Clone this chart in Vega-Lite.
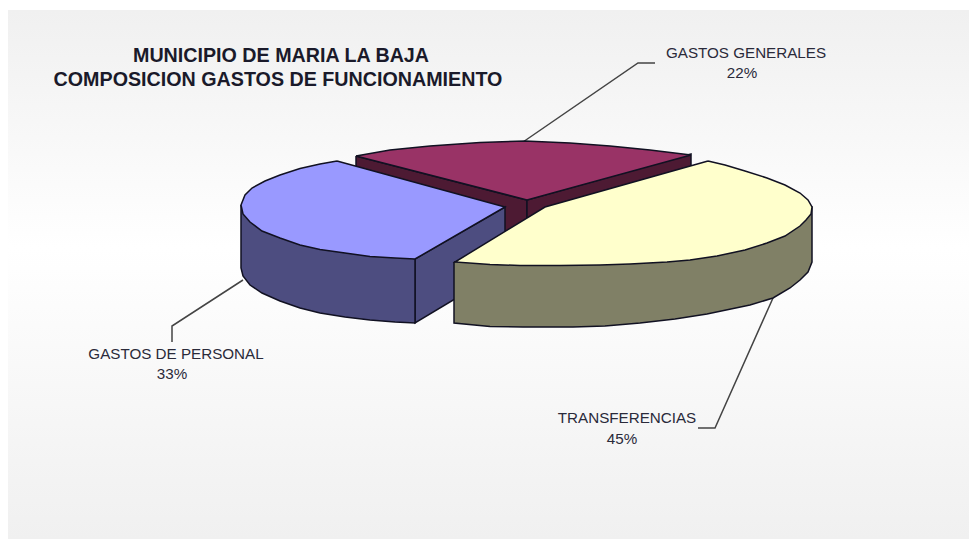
{"$schema":"https://vega.github.io/schema/vega-lite/v6.json","width":969,"height":539,"autosize":{"type":"fit","contains":"padding"},"padding":0,"background":"white","view":{"stroke":null},
"datasets":{
"panel":[{"x":8,"x2":969,"y":10,"y2":539}],
"leaders":[
{"slice":"GASTOS GENERALES","seq":1,"x":523,"y":142},{"slice":"GASTOS GENERALES","seq":2,"x":638,"y":63},{"slice":"GASTOS GENERALES","seq":3,"x":655,"y":63},
{"slice":"GASTOS DE PERSONAL","seq":1,"x":243,"y":280},{"slice":"GASTOS DE PERSONAL","seq":2,"x":172,"y":326},{"slice":"GASTOS DE PERSONAL","seq":3,"x":172,"y":342},
{"slice":"TRANSFERENCIAS","seq":1,"x":773,"y":298},{"slice":"TRANSFERENCIAS","seq":2,"x":715,"y":428},{"slice":"TRANSFERENCIAS","seq":3,"x":698,"y":428}],
"pieces":[
{"piece":"gg_side_l","seq":1,"x":356,"y":156},{"piece":"gg_side_l","seq":2,"x":527,"y":200},{"piece":"gg_side_l","seq":3,"x":527,"y":260},{"piece":"gg_side_l","seq":4,"x":356,"y":200},{"piece":"gg_side_l","seq":5,"x":356,"y":156},
{"piece":"gg_side_r","seq":1,"x":527,"y":200},{"piece":"gg_side_r","seq":2,"x":691,"y":154},{"piece":"gg_side_r","seq":3,"x":691,"y":170},{"piece":"gg_side_r","seq":4,"x":527,"y":225},{"piece":"gg_side_r","seq":5,"x":527,"y":200},
{"piece":"gg_top","seq":1,"x":356,"y":156},{"piece":"gg_top","seq":2,"x":390,"y":150},{"piece":"gg_top","seq":3,"x":430,"y":146},{"piece":"gg_top","seq":4,"x":480,"y":142.5},{"piece":"gg_top","seq":5,"x":525,"y":141},{"piece":"gg_top","seq":6,"x":570,"y":143},{"piece":"gg_top","seq":7,"x":610,"y":146},{"piece":"gg_top","seq":8,"x":650,"y":150},{"piece":"gg_top","seq":9,"x":691,"y":155},{"piece":"gg_top","seq":10,"x":527,"y":200},{"piece":"gg_top","seq":11,"x":356,"y":156},
{"piece":"gp_inner","seq":1,"x":415,"y":259},{"piece":"gp_inner","seq":2,"x":505,"y":207},{"piece":"gp_inner","seq":3,"x":505,"y":269},{"piece":"gp_inner","seq":4,"x":415,"y":323},{"piece":"gp_inner","seq":5,"x":415,"y":259},
{"piece":"gp_side","seq":1,"x":241,"y":205},{"piece":"gp_side","seq":2,"x":241,"y":268},{"piece":"gp_side","seq":3,"x":243,"y":276},{"piece":"gp_side","seq":4,"x":250,"y":285},{"piece":"gp_side","seq":5,"x":262,"y":293},{"piece":"gp_side","seq":6,"x":280,"y":301},{"piece":"gp_side","seq":7,"x":300,"y":308},{"piece":"gp_side","seq":8,"x":320,"y":313},{"piece":"gp_side","seq":9,"x":345,"y":317},{"piece":"gp_side","seq":10,"x":370,"y":320},{"piece":"gp_side","seq":11,"x":395,"y":322},{"piece":"gp_side","seq":12,"x":415,"y":323},{"piece":"gp_side","seq":13,"x":415,"y":259},{"piece":"gp_side","seq":14,"x":241,"y":205},
{"piece":"gp_top","seq":1,"x":337,"y":161},{"piece":"gp_top","seq":2,"x":320,"y":164},{"piece":"gp_top","seq":3,"x":300,"y":168.5},{"piece":"gp_top","seq":4,"x":280,"y":175},{"piece":"gp_top","seq":5,"x":265,"y":181},{"piece":"gp_top","seq":6,"x":252,"y":188},{"piece":"gp_top","seq":7,"x":245,"y":195},{"piece":"gp_top","seq":8,"x":241,"y":205},{"piece":"gp_top","seq":9,"x":243,"y":214},{"piece":"gp_top","seq":10,"x":250,"y":222},{"piece":"gp_top","seq":11,"x":262,"y":231},{"piece":"gp_top","seq":12,"x":280,"y":238},{"piece":"gp_top","seq":13,"x":300,"y":245},{"piece":"gp_top","seq":14,"x":320,"y":249.5},{"piece":"gp_top","seq":15,"x":345,"y":253},{"piece":"gp_top","seq":16,"x":370,"y":256.5},{"piece":"gp_top","seq":17,"x":395,"y":258},{"piece":"gp_top","seq":18,"x":415,"y":259},{"piece":"gp_top","seq":19,"x":505,"y":207},{"piece":"gp_top","seq":20,"x":337,"y":161},
{"piece":"tr_side","seq":1,"x":454,"y":262},{"piece":"tr_side","seq":2,"x":454,"y":323},{"piece":"tr_side","seq":3,"x":490,"y":326.5},{"piece":"tr_side","seq":4,"x":523,"y":327},{"piece":"tr_side","seq":5,"x":573,"y":327},{"piece":"tr_side","seq":6,"x":605,"y":326},{"piece":"tr_side","seq":7,"x":640,"y":323},{"piece":"tr_side","seq":8,"x":675,"y":319},{"piece":"tr_side","seq":9,"x":707,"y":314},{"piece":"tr_side","seq":10,"x":750,"y":305},{"piece":"tr_side","seq":11,"x":773,"y":298},{"piece":"tr_side","seq":12,"x":790,"y":288},{"piece":"tr_side","seq":13,"x":800,"y":280},{"piece":"tr_side","seq":14,"x":808,"y":272},{"piece":"tr_side","seq":15,"x":812,"y":262},{"piece":"tr_side","seq":16,"x":812,"y":207},{"piece":"tr_side","seq":17,"x":454,"y":262},
{"piece":"tr_top","seq":1,"x":708,"y":161},{"piece":"tr_top","seq":2,"x":725,"y":165},{"piece":"tr_top","seq":3,"x":745,"y":171},{"piece":"tr_top","seq":4,"x":767,"y":178},{"piece":"tr_top","seq":5,"x":785,"y":185},{"piece":"tr_top","seq":6,"x":800,"y":193},{"piece":"tr_top","seq":7,"x":808,"y":200},{"piece":"tr_top","seq":8,"x":812,"y":207},{"piece":"tr_top","seq":9,"x":811,"y":214},{"piece":"tr_top","seq":10,"x":806,"y":220},{"piece":"tr_top","seq":11,"x":800,"y":226},{"piece":"tr_top","seq":12,"x":785,"y":236},{"piece":"tr_top","seq":13,"x":767,"y":243},{"piece":"tr_top","seq":14,"x":745,"y":250},{"piece":"tr_top","seq":15,"x":717,"y":256},{"piece":"tr_top","seq":16,"x":690,"y":260},{"piece":"tr_top","seq":17,"x":667,"y":262},{"piece":"tr_top","seq":18,"x":630,"y":264},{"piece":"tr_top","seq":19,"x":600,"y":265},{"piece":"tr_top","seq":20,"x":560,"y":265.5},{"piece":"tr_top","seq":21,"x":520,"y":265.5},{"piece":"tr_top","seq":22,"x":490,"y":264.5},{"piece":"tr_top","seq":23,"x":455,"y":262},{"piece":"tr_top","seq":24,"x":545,"y":207},{"piece":"tr_top","seq":25,"x":708,"y":161}],
"titles":[{"text":"MUNICIPIO DE MARIA LA BAJA","x":281,"y":56},{"text":"COMPOSICION GASTOS DE FUNCIONAMIENTO","x":278,"y":80}],
"labels":[{"text":"GASTOS GENERALES","x":746,"y":53},{"text":"22%","x":742,"y":73},{"text":"GASTOS DE PERSONAL","x":176,"y":354},{"text":"33%","x":172,"y":374},{"text":"TRANSFERENCIAS","x":627,"y":418},{"text":"45%","x":622,"y":439}]},
"encoding":{"x":{"field":"x","type":"quantitative","scale":{"domain":[0,969],"nice":false,"zero":false},"axis":null},"y":{"field":"y","type":"quantitative","scale":{"domain":[539,0],"nice":false,"zero":false},"axis":null}},
"layer":[
{"data":{"name":"panel"},"mark":{"type":"rect","color":{"gradient":"linear","x1":0,"y1":0,"x2":0,"y2":1,"stops":[{"offset":0,"color":"#f0f0f0"},{"offset":0.45,"color":"#ffffff"},{"offset":1,"color":"#f0f0f0"}]}},"encoding":{"x2":{"field":"x2"},"y2":{"field":"y2"}}},
{"data":{"name":"leaders"},"mark":{"type":"line","color":"#444444","strokeWidth":1.5},"encoding":{"detail":{"field":"slice"},"order":{"field":"seq"}}},
{"data":{"name":"pieces"},"mark":{"type":"line","stroke":"#111122","strokeWidth":1.5,"strokeJoin":"miter"},"encoding":{"fill":{"field":"piece","type":"nominal","legend":null,"scale":{"domain":["gg_side_l","gg_side_r","gg_top","gp_inner","gp_side","gp_top","tr_side","tr_top"],"range":["#4d1a33","#4d1a33","#993366","#4d4d80","#4d4d80","#9999ff","#808066","#ffffcc"]}},"order":{"field":"seq"}}},
{"data":{"name":"titles"},"mark":{"type":"text","font":"Liberation Sans","fontWeight":"bold","fontSize":19.7,"fill":"#1a1a2a","align":"center","baseline":"middle"},"encoding":{"text":{"field":"text"}}},
{"data":{"name":"labels"},"mark":{"type":"text","font":"Liberation Sans","fontSize":15.2,"fill":"#2a2a3a","align":"center","baseline":"middle"},"encoding":{"text":{"field":"text"}}}
]}
